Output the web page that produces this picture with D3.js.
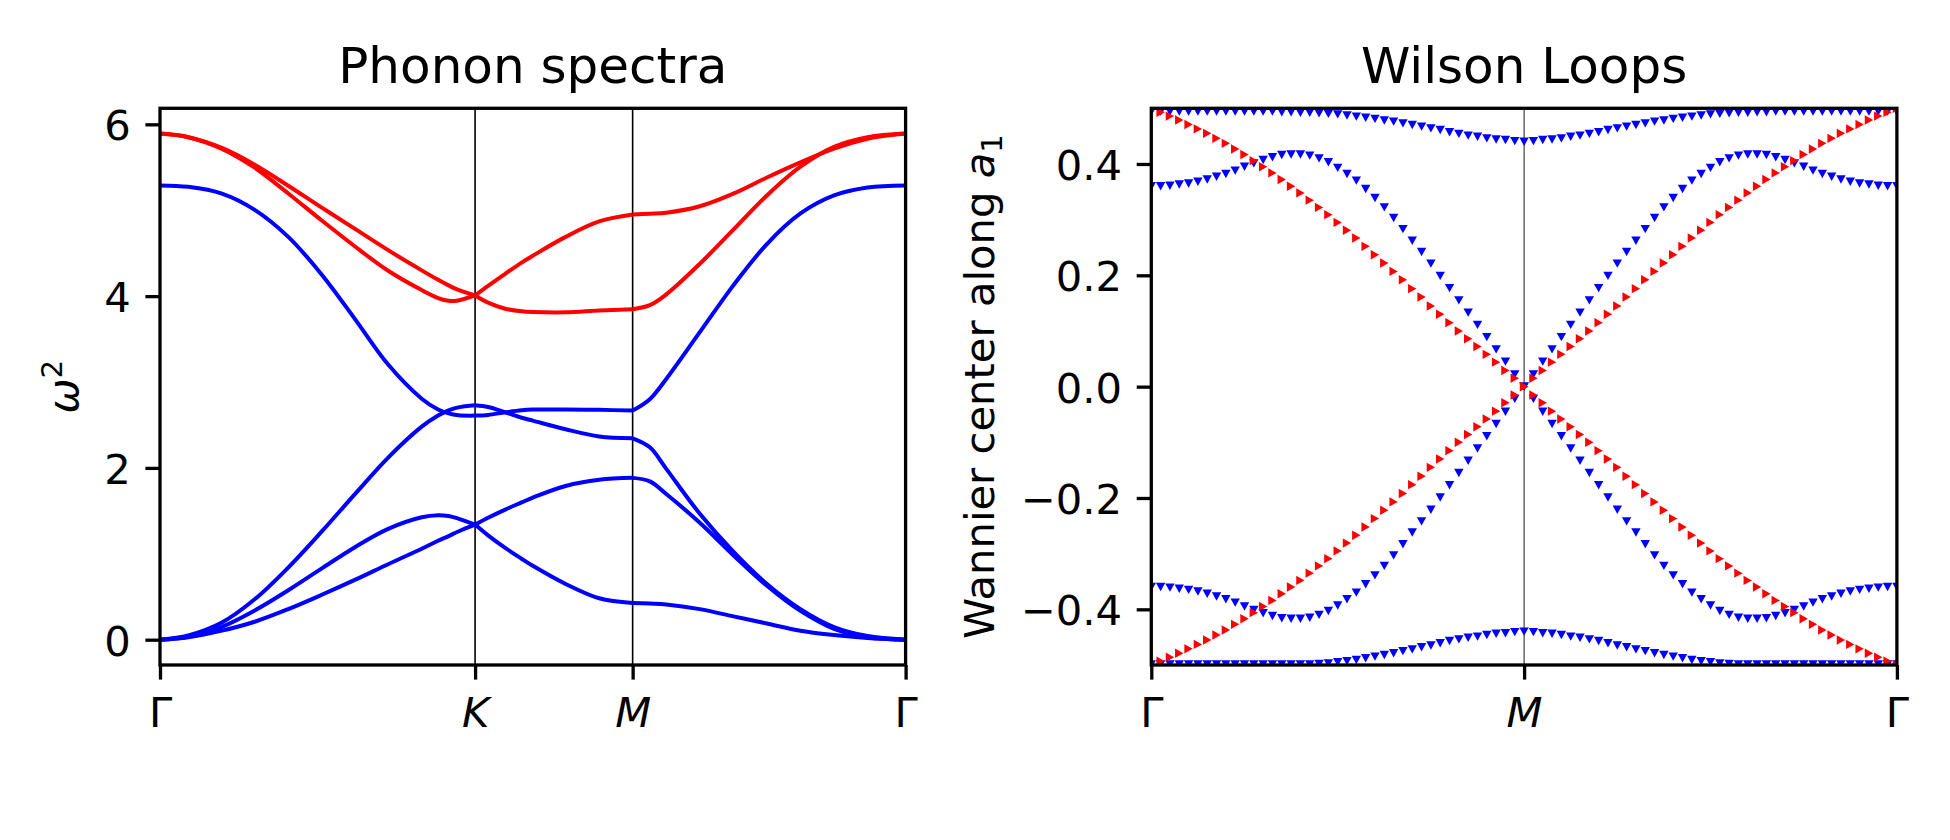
<!DOCTYPE html>
<html>
<head>
<meta charset="utf-8">
<script src="https://cdnjs.cloudflare.com/ajax/libs/d3/7.8.5/d3.min.js"></script>
<style>
  body { margin: 0; background: #fff; }
  text { font-family: "DejaVu Sans", sans-serif; fill: #000; }
</style>
</head>
<body>
<div id="wrapper"></div>
<script>
// ---- phonon spectra: path coordinate along Γ-K-M-Γ and the six bands
const kDist = [0, 0.038, 0.083, 0.127, 0.172, 0.217, 0.262, 0.306, 0.351, 0.373, 0.387, 0.400, 0.4226,
  0.440, 0.463, 0.485, 0.500, 0.544, 0.589, 0.6339,
  0.657, 0.679, 0.724, 0.769, 0.814, 0.859, 0.904, 0.949, 1.0]
const kTicks = [0, 0.4226, 0.6339, 1.0]
const kTickLabels = ["Γ", "K", "M", "Γ"]

const bandRedUpper = [5.892, 5.850, 5.725, 5.530, 5.285, 5.030, 4.780, 4.535, 4.300, 4.190, 4.125, 4.072, 4.008,
  4.120, 4.260, 4.390, 4.470, 4.690, 4.870, 4.950,
  4.960, 4.971, 5.046, 5.193, 5.381, 5.557, 5.716, 5.833, 5.892]
const bandRedLower = [5.892, 5.850, 5.715, 5.495, 5.195, 4.880, 4.575, 4.295, 4.070, 3.978, 3.945, 3.950, 4.008,
  3.924, 3.853, 3.823, 3.815, 3.811, 3.832, 3.848,
  3.895, 4.020, 4.376, 4.774, 5.172, 5.507, 5.737, 5.850, 5.892]
const bandBlue4 = [5.289, 5.272, 5.193, 5.004, 4.690, 4.250, 3.727, 3.203, 2.806, 2.680, 2.634, 2.613, 2.609,
  2.617, 2.647, 2.672, 2.680, 2.680, 2.676, 2.667,
  2.800, 3.036, 3.580, 4.125, 4.606, 4.962, 5.172, 5.264, 5.289]
const bandBlue3 = [0, 0.050, 0.200, 0.470, 0.840, 1.260, 1.700, 2.120, 2.480, 2.610, 2.670, 2.705, 2.730,
  2.709, 2.647, 2.584, 2.550, 2.450, 2.366, 2.345,
  2.240, 1.989, 1.466, 1.026, 0.649, 0.356, 0.147, 0.042, 0]
const bandBlue2 = [0, 0.035, 0.150, 0.340, 0.575, 0.830, 1.080, 1.290, 1.425, 1.450, 1.440, 1.410, 1.340,
  1.214, 1.068, 0.942, 0.860, 0.649, 0.482, 0.427,
  0.420, 0.410, 0.356, 0.272, 0.188, 0.105, 0.054, 0.021, 0]
const bandBlue1 = [0, 0.029, 0.105, 0.209, 0.356, 0.523, 0.699, 0.879, 1.059, 1.152, 1.206, 1.260, 1.340,
  1.420, 1.515, 1.598, 1.655, 1.790, 1.862, 1.884,
  1.843, 1.696, 1.361, 0.984, 0.628, 0.335, 0.126, 0.029, 0]
const phononTicks = [0, 2, 4, 6]

// ---- Wilson loops: 81 k-points along Γ-M-Γ
const wilsonTop = [
  0.494, 0.494, 0.494, 0.494, 0.494, 0.494, 0.494, 0.494, 0.494, 0.494,
  0.494, 0.494, 0.494, 0.494, 0.493, 0.493, 0.492, 0.492, 0.491, 0.490,
  0.489, 0.487, 0.485, 0.483, 0.481, 0.478, 0.476, 0.473, 0.470, 0.467,
  0.464, 0.461, 0.457, 0.454, 0.451, 0.449, 0.446, 0.444, 0.443, 0.441,
  0.440,
  0.441, 0.443, 0.444, 0.446, 0.449, 0.451, 0.454, 0.457, 0.461, 0.464,
  0.467, 0.470, 0.473, 0.476, 0.478, 0.481, 0.483, 0.485, 0.487, 0.489,
  0.490, 0.491, 0.492, 0.492, 0.493, 0.493, 0.494, 0.494, 0.494, 0.494,
  0.494, 0.494, 0.494, 0.494, 0.494, 0.494, 0.494, 0.494, 0.494, 0.494]
const wilsonBottom = [
  -0.499, -0.499, -0.499, -0.499, -0.499, -0.499, -0.499, -0.499, -0.499, -0.499,
  -0.499, -0.499, -0.499, -0.499, -0.499, -0.499, -0.499, -0.499, -0.498, -0.497,
  -0.495, -0.493, -0.491, -0.488, -0.485, -0.482, -0.479, -0.475, -0.472, -0.468,
  -0.465, -0.461, -0.457, -0.454, -0.451, -0.449, -0.446, -0.444, -0.443, -0.441,
  -0.440,
  -0.441, -0.443, -0.444, -0.446, -0.449, -0.451, -0.454, -0.457, -0.461, -0.465,
  -0.468, -0.472, -0.475, -0.479, -0.482, -0.485, -0.488, -0.491, -0.493, -0.495,
  -0.497, -0.498, -0.499, -0.499, -0.499, -0.499, -0.499, -0.499, -0.499, -0.499,
  -0.499, -0.499, -0.499, -0.499, -0.499, -0.499, -0.499, -0.499, -0.499, -0.499]
const wilsonUpper = [
  0.360, 0.360, 0.361, 0.363, 0.365, 0.368, 0.372, 0.377, 0.382, 0.388,
  0.395, 0.401, 0.407, 0.412, 0.416, 0.417, 0.417, 0.415, 0.410, 0.403,
  0.393, 0.382, 0.370, 0.355, 0.339, 0.322, 0.303, 0.283, 0.262, 0.242,
  0.221, 0.199, 0.177, 0.155, 0.133, 0.111, 0.089, 0.067, 0.045, 0.022,
  0.000,
  -0.022, -0.045, -0.067, -0.089, -0.111, -0.133, -0.155, -0.177, -0.199, -0.221,
  -0.242, -0.262, -0.283, -0.303, -0.322, -0.339, -0.355, -0.370, -0.382, -0.393,
  -0.403, -0.410, -0.415, -0.417, -0.417, -0.416, -0.412, -0.407, -0.401, -0.395,
  -0.388, -0.382, -0.377, -0.372, -0.368, -0.365, -0.363, -0.361, -0.360, -0.360]
const wilsonLower = [
  -0.360, -0.360, -0.361, -0.363, -0.365, -0.368, -0.372, -0.377, -0.382, -0.388,
  -0.395, -0.401, -0.407, -0.412, -0.416, -0.417, -0.417, -0.415, -0.410, -0.403,
  -0.393, -0.382, -0.370, -0.355, -0.339, -0.322, -0.303, -0.283, -0.262, -0.242,
  -0.221, -0.199, -0.177, -0.155, -0.133, -0.111, -0.089, -0.067, -0.045, -0.022,
  0.000,
  0.022, 0.045, 0.067, 0.089, 0.111, 0.133, 0.155, 0.177, 0.199, 0.221,
  0.242, 0.262, 0.283, 0.303, 0.322, 0.339, 0.355, 0.370, 0.382, 0.393,
  0.403, 0.410, 0.415, 0.417, 0.417, 0.416, 0.412, 0.407, 0.401, 0.395,
  0.388, 0.382, 0.377, 0.372, 0.368, 0.365, 0.363, 0.361, 0.360, 0.360]
const wilsonRise = [
  -0.500, -0.493, -0.486, -0.479, -0.471, -0.463, -0.455, -0.446, -0.437, -0.427,
  -0.417, -0.406, -0.395, -0.384, -0.372, -0.360, -0.348, -0.335, -0.322, -0.309,
  -0.295, -0.281, -0.267, -0.252, -0.237, -0.222, -0.207, -0.192, -0.176, -0.161,
  -0.145, -0.130, -0.115, -0.100, -0.086, -0.072, -0.058, -0.044, -0.029, -0.015,
  0.000,
  0.015, 0.029, 0.044, 0.058, 0.072, 0.086, 0.100, 0.115, 0.130, 0.145,
  0.161, 0.176, 0.192, 0.207, 0.222, 0.237, 0.252, 0.267, 0.281, 0.295,
  0.309, 0.322, 0.335, 0.348, 0.360, 0.372, 0.384, 0.395, 0.406, 0.417,
  0.427, 0.437, 0.446, 0.455, 0.463, 0.471, 0.479, 0.486, 0.493, 0.500]
const wilsonFall = [
  0.500, 0.493, 0.486, 0.479, 0.471, 0.463, 0.455, 0.446, 0.437, 0.427,
  0.417, 0.406, 0.395, 0.384, 0.372, 0.360, 0.348, 0.335, 0.322, 0.309,
  0.295, 0.281, 0.267, 0.252, 0.237, 0.222, 0.207, 0.192, 0.176, 0.161,
  0.145, 0.130, 0.115, 0.100, 0.086, 0.072, 0.058, 0.044, 0.029, 0.015,
  0.000,
  -0.015, -0.029, -0.044, -0.058, -0.072, -0.086, -0.100, -0.115, -0.130, -0.145,
  -0.161, -0.176, -0.192, -0.207, -0.222, -0.237, -0.252, -0.267, -0.281, -0.295,
  -0.309, -0.322, -0.335, -0.348, -0.360, -0.372, -0.384, -0.395, -0.406, -0.417,
  -0.427, -0.437, -0.446, -0.455, -0.463, -0.471, -0.479, -0.486, -0.493, -0.500]
const wilsonTickIdx = [0, 40, 80]
const wilsonTickLabels = ["Γ", "M", "Γ"]
const wilsonTicks = [-0.4, -0.2, 0, 0.2, 0.4]

function drawChart() {

  // 1. Dimensions

  const dimensions = {
    width: 1950,
    height: 840,
    top: 108.3,
    bottom: 665,
    left1: 160, right1: 905.6,
    left2: 1151.3, right2: 1896.9,
    tick: 14.6,
    pad: 14.6,
    fontSize: 41.7,
    titleSize: 50,
  }

  const svg = d3.select("#wrapper")
    .append("svg")
      .attr("width", dimensions.width)
      .attr("height", dimensions.height)
      .style("display", "block")

  const defs = svg.append("defs")
  const addClip = (id, x0, x1) => defs.append("clipPath").attr("id", id)
    .append("rect")
      .attr("x", x0).attr("y", dimensions.top)
      .attr("width", x1 - x0).attr("height", dimensions.bottom - dimensions.top)
  addClip("clip-left", dimensions.left1, dimensions.right1)
  addClip("clip-right", dimensions.left2, dimensions.right2)

  // 2. Scales

  const xPhonon = d3.scaleLinear().domain([0, 1]).range([dimensions.left1, dimensions.right1])
  const yPhonon = d3.scaleLinear().domain([-0.2946, 6.1866]).range([dimensions.bottom, dimensions.top])
  const xWilson = d3.scaleLinear().domain([0, wilsonTop.length - 1]).range([dimensions.left2, dimensions.right2])
  const yWilson = d3.scaleLinear().domain([-0.5, 0.5]).range([dimensions.bottom, dimensions.top])

  // 3. Phonon bands, one path per segment so the kinks at K and M stay sharp

  const phononPlot = svg.append("g").attr("clip-path", "url(#clip-left)")

  kTicks.slice(1, -1).forEach(k => {
    phononPlot.append("line")
      .attr("x1", xPhonon(k)).attr("x2", xPhonon(k))
      .attr("y1", dimensions.top).attr("y2", dimensions.bottom)
      .attr("stroke", "#000").attr("stroke-width", 1.6)
  })

  const bands = [
    { values: bandBlue1, color: "#0000ff" },
    { values: bandBlue2, color: "#0000ff" },
    { values: bandBlue3, color: "#0000ff" },
    { values: bandBlue4, color: "#0000ff" },
    { values: bandRedLower, color: "#ff0000" },
    { values: bandRedUpper, color: "#ff0000" },
  ]
  const segmentStarts = kTicks.map(k => kDist.indexOf(k))
  const bandLine = d3.line()
    .x(d => xPhonon(d[0]))
    .y(d => yPhonon(d[1]))
    .curve(d3.curveCatmullRom.alpha(0.5))

  bands.forEach(band => {
    const points = kDist.map((k, i) => [k, band.values[i]])
    for (let s = 0; s < segmentStarts.length - 1; s++) {
      phononPlot.append("path")
        .datum(points.slice(segmentStarts[s], segmentStarts[s + 1] + 1))
        .attr("d", bandLine)
        .attr("fill", "none")
        .attr("stroke", band.color)
        .attr("stroke-width", 4)
        .attr("stroke-linejoin", "round")
    }
  })

  // 4. Wilson loop markers

  const wilsonPlot = svg.append("g").attr("clip-path", "url(#clip-right)")

  wilsonPlot.append("line")
    .attr("x1", xWilson(wilsonTickIdx[1])).attr("x2", xWilson(wilsonTickIdx[1]))
    .attr("y1", dimensions.top).attr("y2", dimensions.bottom)
    .attr("stroke", "#000").attr("stroke-width", 0.9)

  const mw = 9.4, mh = 8.4
  const triDown = `M${-mw / 2},${-mh / 2}L${mw / 2},${-mh / 2}L0,${mh / 2}Z`
  const triRight = `M${-mh / 2},${-mw / 2}L${mh / 2},0L${-mh / 2},${mw / 2}Z`

  const drawMarkers = (series, shape, color) => {
    wilsonPlot.append("g")
      .selectAll("path")
      .data(series)
      .join("path")
        .attr("d", shape)
        .attr("transform", (d, i) => `translate(${xWilson(i)},${yWilson(d)})`)
        .attr("fill", color)
  }
  ;[wilsonTop, wilsonBottom, wilsonUpper, wilsonLower].forEach(s => drawMarkers(s, triDown, "#0000ff"))
  ;[wilsonRise, wilsonFall].forEach(s => drawMarkers(s, triRight, "#ff0000"))

  // 5. Frames, axes and labels

  const styleAxis = (g, dy) => {
    g.select(".domain").remove()
    g.selectAll(".tick line").attr("stroke", "#000").attr("stroke-width", 3.3)
    g.selectAll(".tick text")
      .attr("fill", "#000")
      .attr("dy", dy)
      .style("font-family", "'DejaVu Sans', sans-serif")
      .style("font-size", dimensions.fontSize + "px")
  }

  const drawFrame = (x0, x1) => svg.append("rect")
    .attr("x", x0).attr("y", dimensions.top)
    .attr("width", x1 - x0).attr("height", dimensions.bottom - dimensions.top)
    .attr("fill", "none").attr("stroke", "#000").attr("stroke-width", 3.3)

  // left axes
  svg.append("g")
    .attr("transform", `translate(${dimensions.left1},0)`)
    .call(d3.axisLeft(yPhonon).tickValues(phononTicks).tickFormat(d3.format("d"))
      .tickSize(dimensions.tick).tickPadding(dimensions.pad))
    .call(g => styleAxis(g, "0.37em"))

  svg.append("g")
    .attr("transform", `translate(0,${dimensions.bottom})`)
    .call(d3.axisBottom(xPhonon).tickValues(kTicks).tickFormat((d, i) => kTickLabels[i])
      .tickSize(dimensions.tick).tickPadding(dimensions.pad))
    .call(g => styleAxis(g, "0.79em"))
    .call(g => g.selectAll(".tick text").style("font-style", (d, i) => kTickLabels[i] === "Γ" ? "normal" : "italic"))

  drawFrame(dimensions.left1, dimensions.right1)

  // right axes
  svg.append("g")
    .attr("transform", `translate(${dimensions.left2},0)`)
    .call(d3.axisLeft(yWilson).tickValues(wilsonTicks).tickFormat(d3.format(".1f"))
      .tickSize(dimensions.tick).tickPadding(dimensions.pad))
    .call(g => styleAxis(g, "0.37em"))

  svg.append("g")
    .attr("transform", `translate(0,${dimensions.bottom})`)
    .call(d3.axisBottom(xWilson).tickValues(wilsonTickIdx).tickFormat((d, i) => wilsonTickLabels[i])
      .tickSize(dimensions.tick).tickPadding(dimensions.pad))
    .call(g => styleAxis(g, "0.79em"))
    .call(g => g.selectAll(".tick text").style("font-style", (d, i) => wilsonTickLabels[i] === "Γ" ? "normal" : "italic"))

  drawFrame(dimensions.left2, dimensions.right2)

  // titles
  svg.append("text")
    .attr("x", (dimensions.left1 + dimensions.right1) / 2)
    .attr("y", 83)
    .attr("text-anchor", "middle")
    .style("font-size", dimensions.titleSize + "px")
    .text("Phonon spectra")

  svg.append("text")
    .attr("x", (dimensions.left2 + dimensions.right2) / 2)
    .attr("y", 83)
    .attr("text-anchor", "middle")
    .style("font-size", dimensions.titleSize + "px")
    .text("Wilson Loops")

  // y labels
  const midY = (dimensions.top + dimensions.bottom) / 2

  const yLabelLeft = svg.append("text")
    .attr("transform", `translate(78,${midY}) rotate(-90)`)
    .attr("text-anchor", "middle")
    .style("font-size", dimensions.fontSize + "px")
  yLabelLeft.append("tspan").style("font-style", "italic").text("ω")
  yLabelLeft.append("tspan")
    .attr("dy", -0.38 * dimensions.fontSize)
    .style("font-size", (dimensions.fontSize * 0.7) + "px")
    .text("2")

  const yLabelRight = svg.append("text")
    .attr("transform", `translate(994,${midY}) rotate(-90)`)
    .attr("text-anchor", "middle")
    .style("font-size", dimensions.fontSize + "px")
  yLabelRight.append("tspan").text("Wannier center along ")
  yLabelRight.append("tspan").style("font-style", "italic").text("a")
  yLabelRight.append("tspan")
    .attr("dy", 0.2 * dimensions.fontSize)
    .style("font-size", (dimensions.fontSize * 0.7) + "px")
    .text("1")
}

drawChart()
</script>
</body>
</html>
